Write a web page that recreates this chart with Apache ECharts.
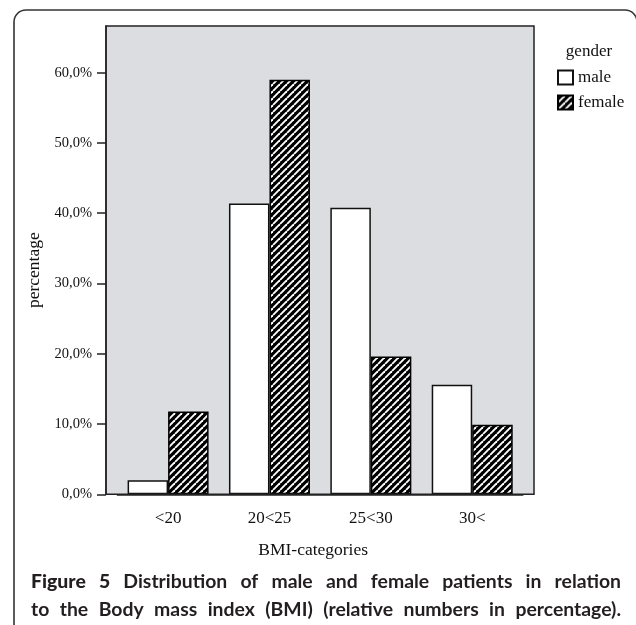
<!DOCTYPE html>
<html><head><meta charset="utf-8">
<script src="https://cdn.jsdelivr.net/npm/echarts@6/dist/echarts.min.js"></script>
<style>html,body{margin:0;padding:0;background:#fff}#c{width:636px;height:625px}</style>
</head><body><div id="c"></div>
<script>
const categories = ['<20', '20<25', '25<30', '30<'];
const maleValues = [2.0, 41.4, 40.8, 15.6];
const femaleValues = [11.8, 59.0, 19.6, 9.9];
const yTicks = [0, 10, 20, 30, 40, 50, 60];
const seriesNames = ['male', 'female'];
const legendTitle = 'gender';
const xName = 'BMI-categories';
const yName = 'percentage';
const captionLine1 = 'Figure 5 Distribution of male and female patients in relation';
const captionLine2 = 'to the Body mass index (BMI) (relative numbers in percentage).';

function hatch() {
  const p = 7;
  const c = document.createElement('canvas');
  c.width = p; c.height = p;
  const g = c.getContext('2d');
  g.fillStyle = '#000'; g.fillRect(0, 0, p, p);
  g.strokeStyle = '#fff'; g.lineWidth = 1.9;
  for (const k of [-1, 0, 1]) {
    g.beginPath(); g.moveTo(k * p, p); g.lineTo(k * p + p, 0); g.stroke();
  }
  return c;
}

const CAP_FONT = 'Lato';
const CAP_X0 = 31, CAP_X1 = 621;
const mctx = document.createElement('canvas').getContext('2d');
function fontStr(w, fs) { return w + ' ' + fs + 'px "' + CAP_FONT + '"'; }
function measure(text, w, fs) { mctx.font = fontStr(w, fs); return mctx.measureText(text).width; }
function weightOf(i, boldCount) { return i < boldCount ? 900 : 700; }
function naturalWidth(text, boldCount, fs) {
  const words = text.split(' ');
  let t = 0;
  words.forEach((wd, i) => { t += measure(wd, weightOf(i, boldCount), fs); });
  t += (words.length - 1) * measure(' ', 700, fs);
  return t;
}
let capFs = Math.min(19.4, 17 * (CAP_X1 - CAP_X0) * 0.985 / Math.max(naturalWidth(captionLine1, 2, 17), naturalWidth(captionLine2, 0, 17)));
function captionLine(text, y, boldCount) {
  const words = text.split(' ');
  const widths = words.map((w, i) => measure(w, weightOf(i, boldCount), capFs));
  const total = widths.reduce((a, b) => a + b, 0);
  const gap = (CAP_X1 - CAP_X0 - total) / (words.length - 1);
  let x = CAP_X0;
  return words.map((w, i) => {
    const el = { type: 'text', x: x, y: y, silent: true, z: 10,
      style: { text: w, fontFamily: CAP_FONT, fontWeight: weightOf(i, boldCount), fontSize: capFs,
               fill: '#231f20', verticalAlign: 'middle', align: 'left' } };
    x += widths[i] + gap;
    return el;
  });
}

const serif = 'Liberation Serif';
const chart = echarts.init(document.getElementById('c'), null, { renderer: 'canvas' });
const option = {
  animation: false,
  backgroundColor: '#fff',
  graphic: [
    { type: 'rect', z: -1, silent: true, shape: { x: 14, y: 10, width: 623, height: 700, r: 12 },
      style: { fill: 'none', stroke: '#333', lineWidth: 1.6 } },
    { type: 'rect', z: -1, silent: true, shape: { x: 106, y: 26, width: 428, height: 468.3 },
      style: { fill: '#dcdde0' } },
    { type: 'rect', z: 50, silent: true, shape: { x: 106, y: 26, width: 428, height: 468.3 },
      style: { fill: 'none', stroke: '#222', lineWidth: 1.5 } },
    { type: 'text', x: 589, y: 52, silent: true,
      style: { text: legendTitle, fontFamily: serif, fontSize: 17, fill: '#111', align: 'center', verticalAlign: 'middle' } }
  ].concat(captionLine(captionLine1, 582, 2)).concat(captionLine(captionLine2, 610, 0)),
  grid: { left: 117.4, right: 113.1, top: 26, bottom: 130.7, containLabel: false },
  legend: {
    orient: 'vertical', left: 557, top: 69, padding: 0, itemWidth: 15, itemHeight: 14, itemGap: 8,
    icon: 'rect', data: seriesNames,
    textStyle: { fontFamily: serif, fontSize: 17, color: '#111' }
  },
  xAxis: {
    type: 'category', data: categories,
    axisLine: { lineStyle: { color: '#222', width: 1.5 } },
    axisTick: { alignWithLabel: true, interval: 0, length: 12, lineStyle: { color: '#222', width: 1.5 } },
    axisLabel: { margin: 16, interval: 0, color: '#111', fontFamily: serif, fontSize: 17 },
    name: xName, nameLocation: 'middle', nameGap: 47,
    nameTextStyle: { fontFamily: serif, fontSize: 17.5, color: '#111', padding: [0, 14, 0, 0] }
  },
  yAxis: {
    type: 'value', min: 0, max: 66.65, offset: 11.4,
    splitLine: { show: false },
    axisLine: { show: true, lineStyle: { color: '#222', width: 1.5 } },
    axisTick: { show: true, length: 9, customValues: yTicks, lineStyle: { color: '#222', width: 1.5 } },
    axisLabel: { margin: 14, customValues: yTicks, color: '#111', fontFamily: serif, fontSize: 14.5,
      formatter: v => v.toFixed(1).replace('.', ',') + '%' },
    name: yName, nameLocation: 'middle', nameGap: 60, nameRotate: 90,
    nameTextStyle: { fontFamily: serif, fontSize: 17.5, color: '#111', padding: [0, 20, 0, 0] }
  },
  series: [
    { name: seriesNames[0], type: 'bar', data: maleValues, barWidth: 40.5, barGap: '0%',
      itemStyle: { color: '#fff', borderColor: '#111', borderWidth: 1.5 } },
    { name: seriesNames[1], type: 'bar', data: femaleValues, barWidth: 40.5, barGap: '0%',
      itemStyle: { color: { image: hatch(), repeat: 'repeat' }, borderColor: '#000', borderWidth: 1.5 } }
  ]
};
chart.setOption(option);
</script>
</body></html>
